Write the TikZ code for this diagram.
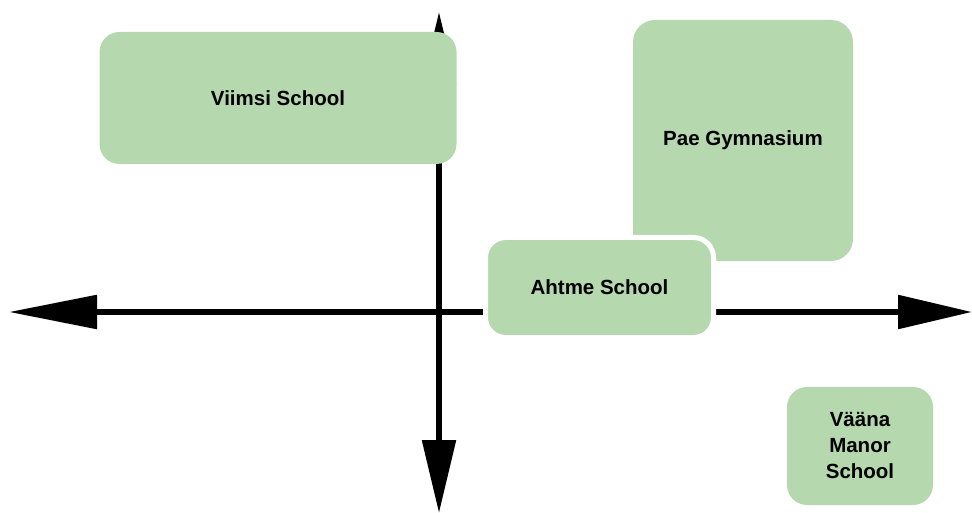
\documentclass[tikz,border=0pt]{standalone}
\usepackage{fontspec}
\setmainfont{Liberation Sans}
\usetikzlibrary{arrows.meta}
\usepackage{xcolor}
\definecolor{boxgreen}{HTML}{B6D8AF}

\begin{document}
\begin{tikzpicture}[x=1pt,y=-1pt,
    school/.style={fill=boxgreen,rounded corners=20pt,inner sep=0pt,align=center,
      font=\fontsize{20.5}{26}\selectfont\bfseries},
    axis/.style={line width=5.5pt}]
  \useasboundingbox (0,0) rectangle (972,513);
  \coordinate (west) at (9,312);
  \coordinate (east) at (972,312);
  \coordinate (north) at (439,12);
  \coordinate (south) at (439,513);
  \draw[axis,{Triangle[length=88pt,width=33pt]}-{Triangle[length=74pt,width=33pt]}]
    (west) -- (east);
  \draw[axis,{Triangle[length=72pt,width=33pt]}-{Triangle[length=73pt,width=33pt]}]
    (north) -- (south);
  \node[school,minimum width=357pt,minimum height=132pt] (viimsi) at (278,98)
    {Viimsi School};
  \node[school,rounded corners=22pt,minimum width=220pt,minimum height=241pt] (pae)
    at (743,140.5) {Pae Gymnasium};
  \node[school,draw=white,line width=5pt,minimum width=228pt,minimum height=100pt]
    (ahtme) at (599.5,287.5) {Ahtme School};
  \node[school,minimum width=146pt,minimum height=118pt] (vaana) at (860,446)
    {Vääna\\Manor\\School};
\end{tikzpicture}
\end{document}
